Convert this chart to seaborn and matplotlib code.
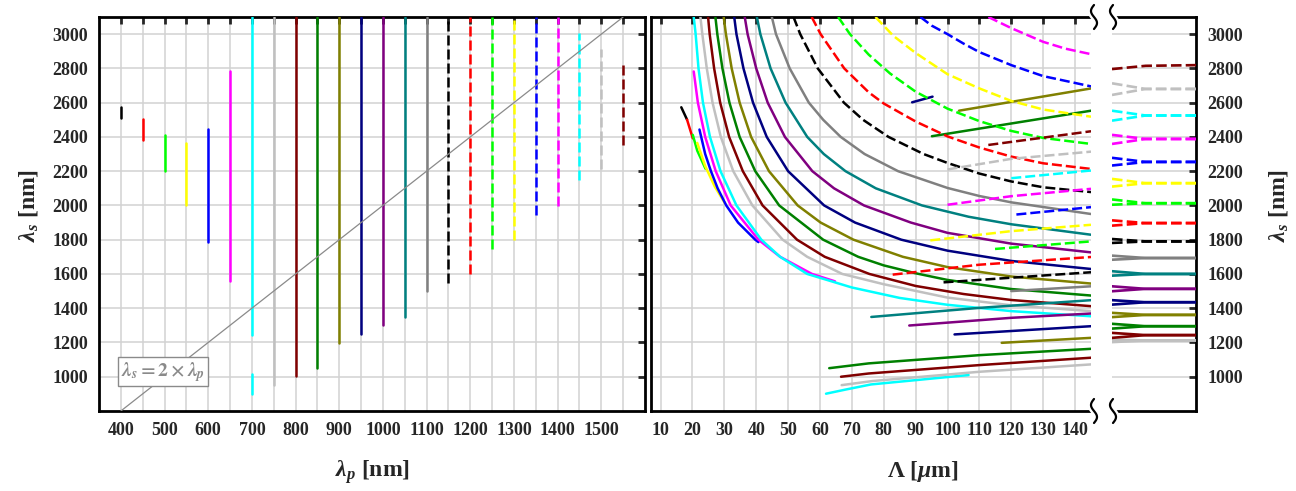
import numpy as np
import matplotlib
matplotlib.use("Agg")
import matplotlib.pyplot as plt
import seaborn as sns
from matplotlib.lines import Line2D

# ---------------- left panel data ----------------
pump_nm = [400, 450, 500, 550, 600, 650, 700, 750, 800, 850, 900, 950, 1000,
           1050, 1100, 1150, 1200, 1250, 1300, 1350, 1400, 1450, 1500, 1550]
signal_min_nm = [2510, 2380, 2200, 2000, 1785, 1557, 1245, 953, 1002, 1053, 1199,
                 1251, 1300, 1351, 1499, 1548, 1600, 1748, 1801, 1947, 1996, 2146,
                 2211, 2353]
signal_max_nm = [2575, 2505, 2410, 2363, 2444, 2785, 3100, 3100, 3100, 3100, 3100,
                 3100, 3100, 3100, 3100, 3100, 3100, 3100, 3100, 3100, 3100, 3009,
                 2912, 2834]
cyan700_low_min = 900
cyan700_low_max = 1018
pump_colors = ["black", "red", "lime", "yellow", "blue", "magenta", "cyan", "silver",
               "maroon", "green", "olive", "navy", "purple", "teal", "gray",
               "black", "red", "lime", "yellow", "blue", "magenta", "cyan", "silver",
               "maroon"]
pump_dashed = [False] * 15 + [True] * 9

diag_lp = [400, 1550]
diag_ls = [800, 3100]

x_ticks_left = list(range(400, 1551, 50))
x_labels_left = [str(v) if v % 100 == 0 and v <= 1500 else "" for v in x_ticks_left]
y_ticks = [1000, 1200, 1400, 1600, 1800, 2000, 2200, 2400, 2600, 2800, 3000]
x_ticks_right = list(range(10, 141, 10))

# ---------------- right panel data (poling period [um] vs signal [nm]) ----------------
k400_x = [16.5, 18.3]
k400_y = [2573, 2501]
r450_x = [18.3, 20.1]
r450_y = [2501, 2392]
g500_x = [20.1, 21.5, 24.1]
g500_y = [2412, 2320, 2214]
y550_x = [21.5, 24.0, 27.0, 30.3]
y550_y = [2365, 2230, 2110, 2010]
b600_x = [22.2, 24.0, 25.8, 27.9, 30.6, 34.3, 39.7, 40.7]
b600_y = [2443, 2300, 2200, 2100, 2000, 1900, 1800, 1786]
m650_x = [20.4, 21.7, 24.0, 27.3, 32.0, 40.7, 47.5, 57.5, 64.7]
m650_y = [2782, 2600, 2400, 2200, 2000, 1800, 1700, 1600, 1557]

c700_x = [20.4, 21.0, 21.9, 23.3, 25.5, 28.8, 33.8, 41.6, 47.5, 56.0, 70, 85, 100, 120, 145]
c700_y = [3100, 3000, 2800, 2600, 2400, 2200, 2000, 1800, 1700, 1600, 1521, 1460, 1420, 1383, 1353]
s750_x = [22.5, 23.1, 24.5, 26.3, 28.9, 32.8, 38.8, 48.3, 56.0, 67.0, 80, 100, 120, 145]
s750_y = [3100, 3000, 2800, 2600, 2400, 2200, 2000, 1800, 1700, 1600, 1540, 1462, 1417, 1383]
mr800_x = [24.9, 25.4, 26.8, 28.7, 31.5, 35.8, 42.0, 52.8, 61.5, 75.5, 90, 105, 120, 145]
mr800_y = [3100, 3000, 2800, 2600, 2400, 2200, 2000, 1800, 1700, 1600, 1530, 1483, 1448, 1412]
gr850_x = [27.2, 27.8, 29.4, 31.6, 34.8, 39.7, 47.2, 61.0, 72, 80, 90, 100, 120, 145]
gr850_y = [3100, 3000, 2800, 2600, 2400, 2200, 2000, 1800, 1700, 1650, 1604, 1565, 1512, 1474]
ol900_x = [29.8, 30.5, 32.3, 34.8, 38.4, 44.0, 53.0, 60.2, 70.5, 86, 100, 120, 145]
ol900_y = [3100, 3000, 2800, 2600, 2400, 2200, 2000, 1900, 1800, 1700, 1640, 1585, 1544]
nv950_x = [33.1, 33.8, 36.0, 39.0, 43.3, 50.0, 61.3, 71, 85.5, 100, 120, 145]
nv950_y = [3100, 3000, 2800, 2600, 2400, 2200, 2000, 1900, 1800, 1736, 1676, 1629]
pu1000_x = [36.4, 37.3, 40.0, 43.6, 49.0, 57.6, 64.4, 73.8, 88.5, 100, 120, 145]
pu1000_y = [3100, 3000, 2800, 2600, 2400, 2200, 2100, 2000, 1900, 1840, 1777, 1726]
tl1050_x = [40.2, 41.3, 44.5, 49.2, 56.0, 61.2, 68.0, 77.5, 92, 106.6, 120, 145]
tl1050_y = [3100, 3000, 2800, 2600, 2400, 2300, 2200, 2100, 2000, 1934, 1890, 1829]
gy1100_x = [44.9, 46.2, 50.5, 56.5, 61.0, 66.5, 74.0, 84.5, 100, 110, 120, 145]
gy1100_y = [3100, 3000, 2800, 2600, 2500, 2400, 2300, 2200, 2102, 2055, 2018, 1950]

k1150_x = [51.7, 53.8, 59.3, 67.5, 73.5, 81.5, 92.5, 100, 110, 120, 130, 145]
k1150_y = [3100, 3000, 2800, 2600, 2500, 2400, 2300, 2248, 2186, 2140, 2106, 2078]
r1200_x = [57.4, 60.2, 67.6, 75.3, 80, 90, 100, 110, 120, 130, 145]
r1200_y = [3100, 3000, 2800, 2660, 2595, 2490, 2403, 2338, 2285, 2246, 2213]
g1250_x = [65.7, 69.4, 75.3, 82, 90, 100, 110, 120, 130, 145]
g1250_y = [3100, 3000, 2880, 2770, 2664, 2565, 2492, 2435, 2394, 2359]
y1300_x = [77.4, 83, 90, 100, 110, 120, 130, 145]
y1300_y = [3100, 2990, 2890, 2766, 2683, 2610, 2560, 2518]
b1350_x = [91.5, 95, 100, 105, 110, 120, 130, 145]
b1350_y = [3100, 3050, 3000, 2945, 2895, 2819, 2755, 2695]
m1400_x = [112.8, 120, 130, 137, 145]
m1400_y = [3100, 3035, 2955, 2915, 2883]

# increasing (lower) branches
c700i_x = [61.9, 68.0, 76.0, 106.6]
c700i_y = [901, 925, 955, 1010]
s750i_x = [66.8, 76.5, 110, 145]
s750i_y = [951, 975, 1029, 1072]
mr800i_x = [66.6, 75.3, 110, 145]
mr800i_y = [1000, 1019, 1068, 1111]
gr850i_x = [62.9, 75.3, 110, 145]
gr850i_y = [1050, 1078, 1126, 1163]
ol900i_x = [117, 145]
ol900i_y = [1198, 1227]
nv950i_x = [102.2, 145]
nv950i_y = [1247, 1295]
pu1000i_x = [88, 120, 145]
pu1000i_y = [1299, 1344, 1369]
tl1050i_x = [76.1, 110, 145]
tl1050i_y = [1349, 1402, 1447]
gy1100i_x = [120, 145]
gy1100i_y = [1500, 1528]
k1150i_x = [98.75, 145]
k1150i_y = [1551, 1610]
r1200i_x = [82.8, 110, 145]
r1200i_y = [1596, 1654, 1699]
g1250i_x = [114.9, 145]
g1250i_y = [1746, 1790]
y1300i_x = [94.6, 120, 145]
y1300i_y = [1796, 1850, 1887]
b1350i_x = [121.6, 145]
b1350i_y = [1947, 1990]
m1400i_x = [100, 120, 145]
m1400i_y = [2004, 2054, 2097]
c1450i_x = [120, 145]
c1450i_y = [2159, 2204]
s1500i_x = [100, 120, 145]
s1500i_y = [2210, 2272, 2314]
mr1550i_x = [112.8, 145]
mr1550i_y = [2353, 2433]

# upper rising solid branches
ol900u_x = [103.6, 145]
ol900u_y = [2553, 2683]
gr850u_x = [95.1, 145]
gr850u_y = [2404, 2553]
nv950u_x = [88.9, 95.3]
nv950u_y = [2602, 2635]

# ---------------- strip (large period limit) ----------------
strip_colors = ["silver", "maroon", "green", "olive", "navy", "purple", "teal", "gray",
                "black", "red", "lime", "yellow", "blue", "magenta", "cyan", "silver"]
strip_dashed = [False] * 8 + [True] * 8
strip_upper_start = [1217, 1256, 1309, 1373, 1447, 1528, 1616, 1707,
                     1804, 1913, 2035, 2155, 2278, 2412, 2553, 2713]
strip_lower_start = [1202, 1227, 1281, 1348, 1421, 1499, 1590, 1683,
                     1781, 1882, 2004, 2110, 2233, 2359, 2495, 2645]
strip_limit = [1212, 1243, 1295, 1361, 1435, 1513, 1600, 1693,
               1790, 1897, 2013, 2130, 2254, 2388, 2525, 2680]
strip_maroon_dash_y = [2796, 2815, 2819]
strip_pos = [0.0, 0.4, 1.0]

# ---------------- style ----------------
sns.set_style("white")
plt.rcParams["font.family"] = ["Liberation Serif", "DejaVu Serif"]
plt.rcParams["font.weight"] = "bold"
plt.rcParams["mathtext.fontset"] = "custom"
plt.rcParams["mathtext.rm"] = "Liberation Serif:bold"
plt.rcParams["mathtext.it"] = "Liberation Serif:italic:bold"
plt.rcParams["mathtext.bf"] = "Liberation Serif:bold"

W, H = 1296, 491
fig = plt.figure(figsize=(W / 100, H / 100), dpi=100)
fig.patch.set_facecolor("white")


def fx(px):
    return px / W


def fy(py):
    return 1 - py / H


ax1 = fig.add_axes([fx(99), fy(411), fx(645) - fx(99), fy(17) - fy(411)])
ax2 = fig.add_axes([fx(651), fy(411), fx(1091) - fx(651), fy(17) - fy(411)])
ax3 = fig.add_axes([fx(1112), fy(411), fx(1196) - fx(1112), fy(17) - fy(411)])

LW = 1.8
DASH = (0, (4.0, 1.6))
GRID = "#d2d2d2"


def draw(ax, xs, ys, color, dashed=False, lw=LW):
    kw = dict(linestyle=DASH) if dashed else dict(linestyle="-")
    sns.lineplot(x=xs, y=ys, ax=ax, color=color, sort=False, estimator=None,
                 linewidth=lw, legend=False, zorder=3, **kw)


# ---- left panel ----
for v in x_ticks_left:
    ax1.axvline(v, color=GRID, lw=1.1, zorder=0)
for v in y_ticks:
    ax1.axhline(v, color=GRID, lw=1.1, zorder=0)
for lp, lo, hi, c, d in zip(pump_nm, signal_min_nm, signal_max_nm, pump_colors, pump_dashed):
    draw(ax1, [lp, lp], [lo, hi], c, d)
draw(ax1, [700, 700], [cyan700_low_min, cyan700_low_max], "cyan")
sns.lineplot(x=diag_lp, y=diag_ls, ax=ax1, color="#8a8a8a", linewidth=0.9,
             sort=False, estimator=None, zorder=4)
ax1.text(497, 1030, r"$\lambda_s = 2\times\lambda_p$", color="#8a8a8a", fontsize=14,
         math_fontfamily="stix", ha="center", va="center", zorder=5,
         bbox=dict(boxstyle="square,pad=0.15", fc="white", ec="#8a8a8a", lw=1.0))
ax1.set_xlim(350, 1600)
ax1.set_ylim(800, 3100)
ax1.set_xticks(x_ticks_left)
ax1.set_xticklabels(x_labels_left)
ax1.set_yticks(y_ticks)
ax1.set_xlabel("")
ax1.set_ylabel("")
ax1.tick_params(direction="in", length=5, width=2, top=True, right=True,
                labelsize=13, pad=8)
for s in ax1.spines.values():
    s.set_linewidth(2.0)
    s.set_color("black")

# ---- right main panel ----
for v in x_ticks_right:
    ax2.axvline(v, color=GRID, lw=1.1, zorder=0)
for v in y_ticks:
    ax2.axhline(v, color=GRID, lw=1.1, zorder=0)

solid_curves = [
    (k400_x, k400_y, "black"), (r450_x, r450_y, "red"), (g500_x, g500_y, "lime"),
    (y550_x, y550_y, "yellow"), (b600_x, b600_y, "blue"), (m650_x, m650_y, "magenta"),
    (c700_x, c700_y, "cyan"), (s750_x, s750_y, "silver"), (mr800_x, mr800_y, "maroon"),
    (gr850_x, gr850_y, "green"), (ol900_x, ol900_y, "olive"), (nv950_x, nv950_y, "navy"),
    (pu1000_x, pu1000_y, "purple"), (tl1050_x, tl1050_y, "teal"), (gy1100_x, gy1100_y, "gray"),
    (c700i_x, c700i_y, "cyan"), (s750i_x, s750i_y, "silver"), (mr800i_x, mr800i_y, "maroon"),
    (gr850i_x, gr850i_y, "green"), (ol900i_x, ol900i_y, "olive"), (nv950i_x, nv950i_y, "navy"),
    (pu1000i_x, pu1000i_y, "purple"), (tl1050i_x, tl1050i_y, "teal"), (gy1100i_x, gy1100i_y, "gray"),
    (ol900u_x, ol900u_y, "olive"), (gr850u_x, gr850u_y, "green"), (nv950u_x, nv950u_y, "navy"),
]
dashed_curves = [
    (k1150_x, k1150_y, "black"), (r1200_x, r1200_y, "red"), (g1250_x, g1250_y, "lime"),
    (y1300_x, y1300_y, "yellow"), (b1350_x, b1350_y, "blue"), (m1400_x, m1400_y, "magenta"),
    (k1150i_x, k1150i_y, "black"), (r1200i_x, r1200i_y, "red"), (g1250i_x, g1250i_y, "lime"),
    (y1300i_x, y1300i_y, "yellow"), (b1350i_x, b1350i_y, "blue"), (m1400i_x, m1400i_y, "magenta"),
    (c1450i_x, c1450i_y, "cyan"), (s1500i_x, s1500i_y, "silver"), (mr1550i_x, mr1550i_y, "maroon"),
]
for xs, ys, c in solid_curves:
    draw(ax2, xs, ys, c, False)
for xs, ys, c in dashed_curves:
    draw(ax2, xs, ys, c, True)

ax2.set_xlim(7, 145)
ax2.set_ylim(800, 3100)
ax2.set_xticks(x_ticks_right)
ax2.set_yticks(y_ticks)
ax2.set_yticklabels([])
ax2.set_xlabel("")
ax2.set_ylabel("")
ax2.tick_params(direction="in", length=5, width=2, top=True, right=False,
                labelsize=13, pad=8)
ax2.spines["right"].set_visible(False)
for k in ["left", "top", "bottom"]:
    ax2.spines[k].set_linewidth(2.0)
    ax2.spines[k].set_color("black")

# ---- strip panel ----
for v in y_ticks:
    ax3.axhline(v, color=GRID, lw=1.1, zorder=0)
for c, d, u, lo, lim in zip(strip_colors, strip_dashed, strip_upper_start,
                            strip_lower_start, strip_limit):
    draw(ax3, strip_pos, [u, lim, lim], c, d, lw=1.9)
    draw(ax3, strip_pos, [lo, lim, lim], c, d, lw=1.9)
draw(ax3, strip_pos, strip_maroon_dash_y, "maroon", True, lw=1.9)
ax3.set_xlim(0, 1)
ax3.set_ylim(800, 3100)
ax3.set_xticks([])
ax3.set_yticks(y_ticks)
ax3.yaxis.tick_right()
ax3.set_xlabel("")
ax3.set_ylabel("")
ax3.tick_params(axis="y", direction="in", length=5, width=2, left=False, right=True,
                labelleft=False, labelright=True, labelsize=13, pad=8)
ax3.spines["left"].set_visible(False)
for k in ["right", "top", "bottom"]:
    ax3.spines[k].set_linewidth(2.0)
    ax3.spines[k].set_color("black")

# ---- axis break marks ----
t = np.linspace(-1, 1, 40)
for bx in [1094, 1113]:
    for by in [17, 411]:
        xs = (bx + 3.0 * np.sin(np.pi * t)) / W
        ys = 1 - (by + 12 * t) / H
        fig.add_artist(Line2D(xs, ys, color="white", lw=5, transform=fig.transFigure))
        fig.add_artist(Line2D(xs, ys, color="black", lw=1.6, transform=fig.transFigure))

# ---- labels ----
fig.text(fx(28), fy(205), r"$\lambda_s$ [nm]", rotation=90, ha="center", va="center",
         fontsize=17, fontweight="bold")
fig.text(fx(1278), fy(205), r"$\lambda_s$ [nm]", rotation=90, ha="center", va="center",
         fontsize=17, fontweight="bold")
fig.text(fx(372), fy(472), r"$\lambda_p$ [nm]", ha="center", va="center",
         fontsize=17, fontweight="bold")
fig.text(fx(923), fy(472), r"$\Lambda$ [$\mu$m]", ha="center", va="center",
         fontsize=17, fontweight="bold")

fig.savefig("out.png", dpi=100, facecolor="white")
